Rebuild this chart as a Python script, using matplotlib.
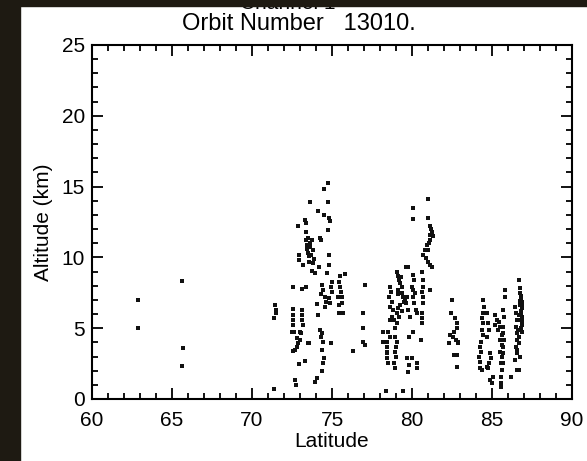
import numpy as np
import matplotlib.pyplot as plt
from matplotlib.patches import Rectangle
from matplotlib.ticker import MultipleLocator

plt.rcParams['font.family'] = ['Liberation Sans', 'DejaVu Sans']
plt.rcParams['font.size'] = 15

# scattered cloud detections, (latitude, altitude km)
lat_63 = [62.9, 62.9, 65.6, 65.7, 65.6]
alt_63 = [7.0, 5.0, 8.3, 3.6, 2.3]

lat_71 = [71.44, 71.5, 71.5, 71.38, 71.38]
alt_71 = [6.64, 6.28, 6.05, 5.7, 0.68]

lat_73 = [74.73, 74.5, 73.65, 74.75, 74.1, 74.48, 74.83, 74.85, 73.33, 73.37,
          74.75, 72.9, 73.37, 73.52, 73.73, 73.37, 73.63, 73.83, 73.58, 73.87,
          73.2, 73.73, 73.94, 74.25, 74.29, 72.96, 72.96, 74.83, 74.19, 74.83,
          74.7, 75.5, 75.8, 75.46, 72.58, 73.1, 73.4, 74.98, 74.94, 75.0,
          74.35, 74.46, 74.29, 74.56, 74.63, 74.56, 74.83, 74.88, 75.5, 75.54,
          75.6, 75.6, 75.67, 74.08, 74.15, 72.54, 72.54, 72.54, 72.58, 72.48,
          72.63, 73.1, 73.1, 73.1, 73.17, 73.0, 73.06, 72.79, 73.0, 72.9,
          72.79, 72.69, 72.58, 73.58, 74.25, 74.35, 74.29, 74.46, 74.92, 74.35,
          74.5, 74.42, 74.35, 72.96, 73.31, 72.69, 72.75, 74.04, 73.94, 75.4,
          75.46, 75.46, 73.52, 73.5, 73.45, 73.6, 73.7, 73.55, 73.8, 73.42]
alt_73 = [15.23, 14.8, 13.9, 13.9, 13.3, 13.0, 12.8, 12.57, 12.64, 12.4,
          11.9, 12.2, 11.8, 11.4, 11.2, 11.2, 10.75, 10.5, 10.1, 9.9,
          9.46, 9.06, 8.87, 11.4, 11.2, 10.2, 9.8, 10.2, 9.34, 9.46,
          8.87, 8.7, 8.8, 8.28, 7.93, 7.8, 7.93, 8.28, 7.93, 7.58,
          8.05, 7.7, 7.4, 7.22, 6.87, 6.52, 7.1, 6.75, 7.93, 7.58,
          7.22, 6.75, 6.05, 6.7, 5.93, 6.33, 5.93, 5.58, 5.23, 4.75,
          4.75, 6.28, 5.93, 5.58, 5.23, 4.75, 4.63, 4.28, 4.17, 3.93,
          3.69, 3.46, 3.39, 3.97, 4.87, 4.63, 4.4, 4.05, 3.97, 3.46,
          2.87, 2.51, 2.0, 2.47, 2.7, 1.34, 0.99, 1.46, 1.22, 7.22,
          6.64, 6.05, 3.93, 10.3, 10.9, 11.0, 10.2, 9.7, 9.6, 10.6]

lat_77 = [77.06, 76.92, 76.96, 76.96, 77.06, 76.33]
alt_77 = [8.05, 6.05, 4.99, 4.05, 3.81, 3.39]

lat_80 = [81.02, 80.04, 80.04, 81.02, 81.13, 81.23, 81.29, 81.13, 80.92, 80.81,
          80.71, 80.88, 81.02, 81.13, 81.23, 79.77, 79.63, 79.04, 79.14, 79.2,
          79.25, 79.36, 79.14, 79.36, 79.46, 79.5, 79.25, 79.14, 79.04, 79.2,
          78.87, 79.04, 78.94, 78.63, 78.67, 78.58, 78.73, 78.63, 78.83, 78.73,
          78.63, 78.52, 78.63, 78.42, 78.46, 78.42, 78.46, 78.52, 78.17, 78.21,
          78.42, 78.94, 79.04, 79.0, 78.94, 79.0, 78.87, 78.94, 80.08, 80.13,
          79.98, 80.08, 80.19, 80.04, 80.13, 80.25, 80.29, 80.6, 80.67, 80.67,
          80.6, 80.67, 80.67, 80.6, 80.6, 80.6, 80.54, 79.67, 79.63, 79.77,
          79.88, 80.04, 79.67, 79.83, 79.98, 80.29, 80.29, 79.77, 79.83, 81.13,
          78.38, 79.46, 81.0, 81.05, 81.18, 81.1, 79.3, 79.1, 79.4, 79.55]
alt_80 = [14.1, 13.5, 12.7, 12.76, 12.2, 11.8, 11.5, 11.2, 10.9, 10.5,
          10.2, 9.93, 9.7, 9.46, 9.34, 9.3, 9.3, 8.99, 8.69, 8.4,
          8.17, 7.93, 7.7, 7.46, 7.22, 6.87, 6.64, 6.4, 6.05, 5.81,
          5.58, 5.34, 4.99, 7.93, 7.58, 7.22, 6.87, 6.52, 6.28, 5.81,
          5.58, 4.75, 4.4, 4.05, 3.69, 3.34, 2.87, 2.51, 4.75, 4.05,
          3.22, 4.4, 4.05, 3.69, 3.34, 2.99, 2.51, 2.16, 8.76, 8.4,
          7.93, 7.7, 7.46, 7.22, 6.75, 6.28, 6.05, 8.99, 8.4, 7.93,
          7.58, 7.22, 6.75, 6.05, 5.7, 5.34, 4.17, 7.22, 6.75, 6.28,
          5.81, 4.75, 2.87, 2.4, 2.87, 2.51, 2.16, 1.93, 4.4, 7.7,
          0.54, 0.59, 10.5, 11.0, 12.0, 11.6, 8.6, 7.4, 6.2, 7.0]

lat_83 = [82.48, 82.44, 82.69, 82.79, 82.83, 82.63, 82.38, 82.54, 82.75, 82.9,
          82.33, 82.9, 82.63, 82.83, 82.83]
alt_83 = [7.0, 6.05, 5.7, 5.34, 4.99, 4.75, 4.52, 4.4, 4.17, 4.05,
          3.93, 3.93, 3.11, 3.11, 2.24]

lat_85 = [84.46, 84.5, 84.46, 84.35, 84.42, 84.35, 84.46, 84.29, 84.25, 84.29,
          84.21, 84.25, 84.25, 84.35, 84.67, 84.77, 84.83, 84.67, 84.88, 84.92,
          84.83, 84.77, 84.67, 84.88, 85.04, 84.98, 85.19, 85.33, 85.19, 85.46,
          85.5, 85.4, 85.6, 85.5, 85.6, 85.5, 85.6, 85.54, 85.6, 85.54,
          85.54, 85.54, 85.81, 85.81, 85.71, 85.75, 85.71, 85.71, 85.75, 85.71,
          85.67, 85.71]
alt_85 = [7.0, 6.52, 6.05, 5.7, 5.34, 4.87, 4.52, 4.05, 3.69, 3.34,
          2.99, 2.63, 2.16, 2.05, 6.05, 5.34, 4.87, 4.4, 3.22, 2.87,
          2.51, 2.16, 2.28, 1.34, 1.57, 1.1, 5.93, 5.58, 5.23, 5.46,
          5.1, 4.87, 4.52, 4.17, 3.81, 3.34, 2.99, 2.51, 2.05, 1.57,
          1.1, 0.87, 7.7, 7.22, 6.28, 5.81, 5.1, 4.63, 4.17, 3.69,
          3.22, 2.51]

lat_87 = [86.44, 86.5, 86.54, 86.5, 86.54, 86.58, 86.5, 86.54, 86.44, 86.58,
          86.17, 86.71, 86.75, 86.75, 86.79, 86.85, 86.75, 86.85, 86.79, 86.88,
          86.75, 86.85, 86.65, 86.71, 86.85, 86.67, 86.58, 86.75, 86.67, 86.8,
          86.9, 86.7, 86.9, 86.8, 86.82, 86.72, 86.88]
alt_87 = [6.52, 6.05, 5.58, 5.1, 4.63, 4.17, 3.69, 3.22, 2.75, 2.05,
          1.57, 8.4, 7.81, 7.46, 7.1, 6.87, 6.64, 6.4, 6.05, 5.81,
          5.58, 5.34, 4.87, 4.4, 4.75, 3.93, 3.46, 2.99, 2.05, 6.2,
          6.6, 5.9, 5.2, 5.0, 7.3, 6.95, 5.65]

lat = np.concatenate([lat_63, lat_71, lat_73, lat_77, lat_80, lat_83, lat_85, lat_87])
alt = np.concatenate([alt_63, alt_71, alt_73, alt_77, alt_80, alt_83, alt_85, alt_87])

W, H = 587, 461
fig = plt.figure(figsize=(W / 100, H / 100), dpi=100, facecolor='white')
ax = fig.add_axes([92 / W, 1 - 399 / H, 480 / W, 354 / H])

ax.scatter(lat, alt, s=5, marker='s', color='#111111', linewidths=0)

ax.set_xlim(60, 90)
ax.set_ylim(0, 25)
ax.xaxis.set_major_locator(MultipleLocator(5))
ax.xaxis.set_minor_locator(MultipleLocator(1))
ax.yaxis.set_major_locator(MultipleLocator(5))
ax.yaxis.set_minor_locator(MultipleLocator(1))
ax.tick_params(which='both', direction='in', top=True, right=True, width=1.3,
               labelsize=15)
ax.tick_params(axis='x', pad=9)
ax.tick_params(axis='y', pad=5)
ax.tick_params(which='major', length=8)
ax.tick_params(which='minor', length=4)
for sp in ax.spines.values():
    sp.set_linewidth(1.5)

ax.set_xlabel('Latitude', fontsize=15, labelpad=1)
ax.set_ylabel('Altitude (km)', fontsize=15, labelpad=6)

# title is centred on the page, not on the axes
fig.text(299 / W, 1 - 30 / H, 'Orbit Number   13010.', ha='center',
         va='baseline', fontsize=17)
# first title line, mostly hidden under the screenshot's top edge
fig.text(288 / W, 1 - 9 / H, 'Channel 1', ha='center', va='baseline',
         fontsize=15)

# dark frame of the screenshot
dark = '#1e1a12'
fig.patches.append(Rectangle((0, 0), 20 / W, 1, transform=fig.transFigure,
                             color=dark, zorder=10))
fig.patches.append(Rectangle((0, 1 - 6 / H), 1, 6 / H, transform=fig.transFigure,
                             color=dark, zorder=10))

fig.savefig('out.png', dpi=100, facecolor='white')
